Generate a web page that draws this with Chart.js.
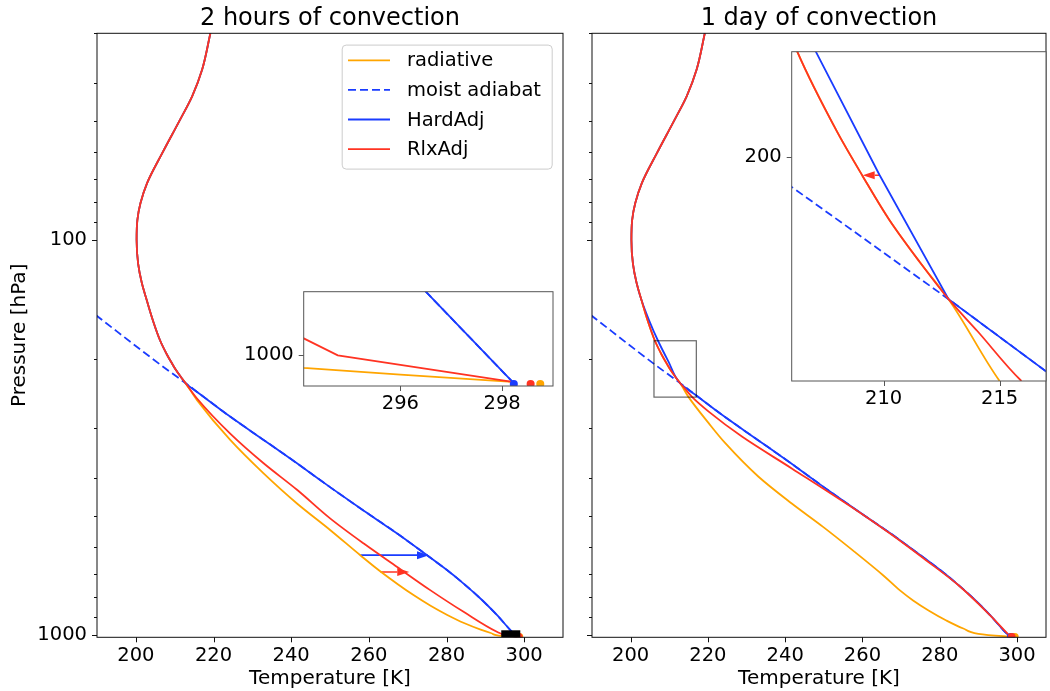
<!DOCTYPE html>
<html>
<head>
<meta charset="utf-8">
<script src="https://cdn.jsdelivr.net/npm/chart.js@4.4.1/dist/chart.umd.min.js"></script>
<style>
  body { margin: 0; background: #fff; }
  #fig { position: relative; width: 1050px; height: 691px; overflow: hidden; background: #fff; }
  .box { position: absolute; }
</style>
</head>
<body>
<div id="fig">
  <div class="box" style="left:0;top:0;width:575px;height:691px"><canvas id="left"></canvas></div>
  <div class="box" style="left:575px;top:0;width:475px;height:691px"><canvas id="right"></canvas></div>
  <div class="box" style="left:240px;top:270px;width:320px;height:150px"><canvas id="insetLeft"></canvas></div>
  <div class="box" style="left:720px;top:30px;width:330px;height:400px"><canvas id="insetRight"></canvas></div>
</div>
<script>
// ---- data (T in K, p in hPa) ----
// upper part shared by all profiles
var upperP = [30, 37, 43.3, 49.6, 60.3, 71.8, 80.7, 89, 100, 115, 128, 142, 160, 180, 195, 203.8, 212.9, 221.9];
var upperT = [219.2, 217.1, 214.5, 211.4, 206.8, 202.9, 201.2, 200.4, 200.2, 200.6, 201.5, 202.8, 204.4, 206.28, 208.0, 209.1, 210.25, 211.54];

// moist adiabat (HardAdj follows it below the junction)
var adiabatP = [155, 206.0, 230.4, 247.6, 280, 320.8, 367.6, 423, 484.8, 553.5, 628.4, 686, 741, 809.6, 892.5, 972.9, 1011.4];
var adiabatT = [189.7, 206.04, 212.8, 217.0, 224.27, 232.9, 241.5, 250.1, 258.7, 267.3, 275.0, 280.2, 284.4, 288.8, 293.1, 296.5, 298.2];

// 2 hours, below the junction
var rad2hP = [230.4, 254, 320.8, 389.9, 464.7, 543, 628.3, 690.6, 793.8, 843.3, 889.8, 932.4, 969, 988.4, 1005.4, 1008.3, 1011.5];
var rad2hT = [212.8, 215.7, 224.3, 232.9, 241.5, 250.1, 257.8, 263.0, 271.6, 275.9, 280.2, 284.5, 288.8, 291.4, 294.1, 296.0, 298.2];
var rlx2hP = [230.4, 251.7, 309.3, 367.6, 429, 507.5, 587, 673, 771, 875, 983, 992.7, 1000, 1011.4];
var rlx2hT = [212.8, 215.7, 224.3, 232.9, 241.5, 250.1, 258.7, 267.3, 275.9, 284.5, 293.1, 294.1, 294.77, 298.17];

// 1 day
var rad1dP = [230.4, 250, 291, 327, 397.6, 464.7, 532.5, 610.7, 706.8, 771.2, 817.7, 866.7, 918.9, 962.8, 993, 1006.4, 1009.9];
var rad1dT = [212.8, 215.0, 220.2, 224.5, 233.1, 241.7, 249.8, 257.5, 265.4, 269.7, 273.1, 277.1, 281.7, 286.1, 290.0, 296.4, 299.2];
var rlx1dP = [230.4, 237.9, 250, 272, 314.6, 378.8, 487, 557, 643, 746, 897, 975, 1011.4];
var rlx1dT = [212.8, 214.05, 215.94, 220.2, 228.8, 241.7, 258.9, 267.5, 276.1, 284.7, 293.3, 296.8, 298.4];
var hard1dP = [30, 37, 43.3, 49.6, 60.3, 71.8, 80.7, 89, 100, 115, 128, 142, 160, 180, 203.5];
var hard1dT = [219.2, 217.1, 214.5, 211.4, 206.8, 202.9, 201.2, 200.4, 200.2, 200.6, 201.5, 202.8, 204.8, 207.08, 209.82];

// surface temperatures: radiative, HardAdj, RlxAdj
var sfcP = 1012.4;
var sfcT2h = [298.75, 298.23, 298.56];
var sfcT1d = [299.4, 298.4, 298.6];

// adjustment arrows: [from T, to T, p]
var arrowHard2h = [257.8, 275.5, 628];
var arrowRlx2h = [263.0, 270.4, 692.6];
var arrowRlx1d = [209.82, 209.1, 203.6];

// axis ranges and ticks
var tRangeLeft = [190, 310];
var tRangeRight = [190, 307.5];
var pRange = [30, 1013.5];
var tTicks = [200, 220, 240, 260, 280, 300];
var pMajor = [100, 1000];
var pMinor = [30, 40, 50, 60, 70, 80, 90, 200, 300, 400, 500, 600, 700, 800, 900];
var insetLeftT = [294.1, 299.0], insetLeftP = [972.9, 1013.3];
var insetLeftTicksT = [296, 298], insetLeftTicksP = [1000];
var insetRightT = [206.04, 217.0], insetRightP = [180, 250];
var insetRightTicksT = [210, 215], insetRightTicksP = [200];

var cRad = '#ffa500', cHard = '#1a3cff', cRlx = '#ff3322';
var FONT = "'DejaVu Sans', sans-serif";
Chart.defaults.font.family = FONT;
Chart.defaults.color = '#000';

function pts(T, P) {
    return T.map(function (t, i) { return {x: t, y: P[i]}; });
}

// profiles are monotone in pressure, so pressure is the index axis
// smooth: [radiative, moist adiabat, HardAdj, RlxAdj] -> monotone spline or straight segments
function profileSets(rad, hard, rlx, sfcT, smooth) {
    function line(i) {
        return {showLine: true, pointRadius: 0, borderWidth: 1.8, fill: false, indexAxis: 'y',
                tension: 0, cubicInterpolationMode: smooth[i] ? 'monotone' : 'default'};
    }
    return [
        Object.assign({label: 'radiative', data: rad, borderColor: cRad, order: 4}, line(0)),
        Object.assign({label: 'moist adiabat', data: pts(adiabatT, adiabatP), borderColor: cHard, borderDash: [8, 4], order: 3}, line(1)),
        Object.assign({label: 'HardAdj', data: hard, borderColor: cHard, order: 2}, line(2)),
        Object.assign({label: 'RlxAdj', data: rlx, borderColor: cRlx, order: 1}, line(3)),
        {label: 'surface', data: sfcT.map(function (t) { return {x: t, y: sfcP}; }), showLine: false,
         pointRadius: 4, pointBorderWidth: 0, pointBackgroundColor: [cRad, cHard, cRlx], order: 0}
    ];
}

var rad2h = pts(upperT.concat(rad2hT), upperP.concat(rad2hP));
var hard2h = pts(upperT.concat(adiabatT.slice(2)), upperP.concat(adiabatP.slice(2)));
var rlx2h = pts(upperT.concat(rlx2hT), upperP.concat(rlx2hP));
var rad1d = pts(upperT.concat(rad1dT), upperP.concat(rad1dP));
var hard1d = pts(hard1dT.concat(adiabatT.slice(2)), hard1dP.concat(adiabatP.slice(2)));
var rlx1d = pts(upperT.concat(rlx1dT), upperP.concat(rlx1dP));

// ---- plugins ----
var axesFrame = {
    id: 'axesFrame',
    beforeDraw: function (chart, args, opts) {
        if (!opts.background) return;
        var a = chart.chartArea, ctx = chart.ctx;
        ctx.save();
        ctx.fillStyle = opts.background;
        ctx.fillRect(a.left, a.top, a.right - a.left, a.bottom - a.top);
        ctx.restore();
    },
    afterDraw: function (chart, args, opts) {
        var ctx = chart.ctx, a = chart.chartArea, xs = chart.scales.x, ys = chart.scales.y;
        ctx.save();
        ctx.strokeStyle = opts.color;
        ctx.lineWidth = 1;
        ctx.beginPath();
        opts.xTicks.forEach(function (v) {
            var px = Math.round(xs.getPixelForValue(v)) + 0.5;
            ctx.moveTo(px, a.bottom); ctx.lineTo(px, a.bottom + 5);
        });
        opts.yMajor.forEach(function (v) {
            var py = Math.round(ys.getPixelForValue(v)) + 0.5;
            ctx.moveTo(a.left, py); ctx.lineTo(a.left - 5, py);
        });
        (opts.yMinor || []).forEach(function (v) {
            var py = Math.round(ys.getPixelForValue(v)) + 0.5;
            ctx.moveTo(a.left, py); ctx.lineTo(a.left - 3, py);
        });
        ctx.stroke();
        ctx.strokeRect(a.left, a.top, a.right - a.left, a.bottom - a.top);
        ctx.restore();
    }
};

var adjustArrows = {
    id: 'adjustArrows',
    beforeDatasetsDraw: function (chart, args, opts) {
        var ctx = chart.ctx, xs = chart.scales.x, ys = chart.scales.y, a = chart.chartArea;
        ctx.save();
        ctx.beginPath(); ctx.rect(a.left, a.top, a.right - a.left, a.bottom - a.top); ctx.clip();
        opts.items.forEach(function (it) {
            var x0 = xs.getPixelForValue(it.arrow[0]), x1 = xs.getPixelForValue(it.arrow[1]);
            var y = ys.getPixelForValue(it.arrow[2]);
            var dir = x1 > x0 ? 1 : -1, hl = 12, hw = 4;
            ctx.strokeStyle = it.color; ctx.fillStyle = it.color; ctx.lineWidth = 1.6;
            ctx.beginPath(); ctx.moveTo(x0, y); ctx.lineTo(x1 - dir * hl, y); ctx.stroke();
            ctx.beginPath(); ctx.moveTo(x1, y);
            ctx.lineTo(x1 - dir * hl, y - hw); ctx.lineTo(x1 - dir * hl, y + hw);
            ctx.closePath(); ctx.fill();
        });
        ctx.restore();
    }
};

var insetMark = {
    id: 'insetMark',
    afterDatasetsDraw: function (chart, args, opts) {
        var ctx = chart.ctx, xs = chart.scales.x, ys = chart.scales.y;
        var x0 = xs.getPixelForValue(opts.t[0]), x1 = xs.getPixelForValue(opts.t[1]);
        var y0 = ys.getPixelForValue(opts.p[0]), y1 = ys.getPixelForValue(opts.p[1]);
        ctx.save();
        if (opts.fill) {
            ctx.fillStyle = opts.fill;
            ctx.fillRect(x0, y0, x1 - x0, y1 - y0);
        } else {
            ctx.strokeStyle = opts.stroke; ctx.lineWidth = 1.2;
            ctx.strokeRect(x0, y0, x1 - x0, y1 - y0);
        }
        ctx.restore();
    }
};

var lineLegend = {
    id: 'lineLegend',
    afterDraw: function (chart) {
        var ctx = chart.ctx, a = chart.chartArea;
        var sets = chart.data.datasets.slice(0, 4);
        var w = 210, rowH = 29.6, h = 124;
        var x0 = a.right - 11.3 - w, y0 = a.top + 11.3;
        ctx.save();
        ctx.fillStyle = 'rgba(255,255,255,0.8)';
        ctx.strokeStyle = '#cccccc';
        ctx.lineWidth = 1;
        ctx.beginPath();
        ctx.roundRect(x0 + 0.5, y0 + 0.5, w, h, 4);
        ctx.fill(); ctx.stroke();
        ctx.font = '19.5px ' + FONT;
        ctx.textBaseline = 'middle';
        sets.forEach(function (ds, i) {
            var y = y0 + 15.7 + i * rowH;
            ctx.strokeStyle = ds.borderColor; ctx.lineWidth = 1.8;
            ctx.setLineDash(ds.borderDash || []);
            ctx.beginPath(); ctx.moveTo(x0 + 6.3, y); ctx.lineTo(x0 + 48.3, y); ctx.stroke();
            ctx.setLineDash([]);
            ctx.fillStyle = '#000';
            ctx.fillText(ds.label, x0 + 65.3, y + 1);
        });
        ctx.restore();
    }
};

function tempAxis(range, ticks, height, title) {
    return {
        type: 'linear', min: range[0], max: range[1],
        afterBuildTicks: function (s) { s.ticks = ticks.map(function (v) { return {value: v}; }); },
        afterFit: function (s) { s.height = height; },
        grid: {display: false, drawTicks: false}, border: {display: false},
        ticks: {padding: 6.5, autoSkip: false, maxRotation: 0, font: {size: 19.5},
                callback: function (v) { return String(v); }},
        title: {display: !!title, text: title || '', font: {size: 20}, padding: 0}
    };
}

function presAxis(range, ticks, width, labels, title) {
    return {
        type: 'logarithmic', reverse: true, min: range[0], max: range[1],
        afterBuildTicks: function (s) { s.ticks = ticks.map(function (v) { return {value: v}; }); },
        afterFit: function (s) { s.width = width; },
        grid: {display: false, drawTicks: false}, border: {display: false},
        ticks: {padding: 10, autoSkip: false, font: {size: 19.5},
                callback: function (v) { return labels ? String(v) : ''; }},
        title: {display: !!title, text: title || '', font: {size: 20}, padding: {top: 8, bottom: 0}}
    };
}

function mainOptions(titleText, tRange, yWidth, padRight, yLabels, yTitle, mark, arrows) {
    return {
        responsive: true, maintainAspectRatio: false, animation: false, events: [],
        layout: {padding: {left: 0, right: padRight, top: 0, bottom: 0}},
        elements: {line: {capBezierPoints: false}},
        plugins: {
            legend: {display: false}, tooltip: {enabled: false},
            title: {display: true, text: titleText, fullSize: false, color: '#000',
                    font: {size: 24, weight: 'normal'}, padding: {top: 4.5, bottom: 0}},
            axesFrame: {color: '#111', xTicks: tTicks, yMajor: pMajor, yMinor: pMinor},
            insetMark: mark,
            adjustArrows: {items: arrows}
        },
        scales: {
            x: tempAxis(tRange, tTicks, 53.7, 'Temperature [K]'),
            y: presAxis(pRange, pMajor, yWidth, yLabels, yTitle)
        }
    };
}

function insetOptions(tRange, pR, tT, pT, yWidth, pad, xHeight, arrows) {
    return {
        responsive: true, maintainAspectRatio: false, animation: false, events: [],
        layout: {padding: pad},
        elements: {line: {capBezierPoints: false}},
        plugins: {
            legend: {display: false}, tooltip: {enabled: false},
            axesFrame: {color: '#555', background: '#fff', xTicks: tT, yMajor: pT},
            adjustArrows: {items: arrows}
        },
        scales: {
            x: tempAxis(tRange, tT, xHeight, null),
            y: presAxis(pR, pT, yWidth, true, null)
        }
    };
}

new Chart(document.getElementById('left'), {
    type: 'line',
    data: {datasets: profileSets(rad2h, hard2h, rlx2h, sfcT2h, [true, true, true, true])},
    options: mainOptions('2 hours of convection', tRangeLeft, 97, 12, true, 'Pressure [hPa]',
        {t: insetLeftT, p: insetLeftP, fill: '#000'},
        [{arrow: arrowHard2h, color: cHard}, {arrow: arrowRlx2h, color: cRlx}]),
    plugins: [axesFrame, adjustArrows, insetMark, lineLegend]
});

new Chart(document.getElementById('right'), {
    type: 'line',
    data: {datasets: profileSets(rad1d, hard1d, rlx1d, sfcT1d, [true, true, true, true])},
    options: mainOptions('1 day of convection', tRangeRight, 17, 2.5, false, null,
        {t: insetRightT, p: insetRightP, stroke: 'rgba(0,0,0,0.6)'}, []),
    plugins: [axesFrame, adjustArrows, insetMark]
});

new Chart(document.getElementById('insetLeft'), {
    type: 'line',
    data: {datasets: profileSets(rad2h, hard2h, rlx2h, sfcT2h, [false, false, false, false])},
    options: insetOptions(insetLeftT, insetLeftP, insetLeftTicksT, insetLeftTicksP, 63.7,
        {left: 0, right: 7, top: 15, bottom: 0}, 34, []),
    plugins: [axesFrame, adjustArrows]
});

new Chart(document.getElementById('insetRight'), {
    type: 'line',
    data: {datasets: profileSets(rad1d, hard1d, rlx1d, sfcT1d, [true, false, false, true])},
    options: insetOptions(insetRightT, insetRightP, insetRightTicksT, insetRightTicksP, 71.7,
        {left: 0, right: 2.3, top: 14, bottom: 0}, 49, [{arrow: arrowRlx1d, color: cRlx}]),
    plugins: [axesFrame, adjustArrows]
});
</script>
</body>
</html>
